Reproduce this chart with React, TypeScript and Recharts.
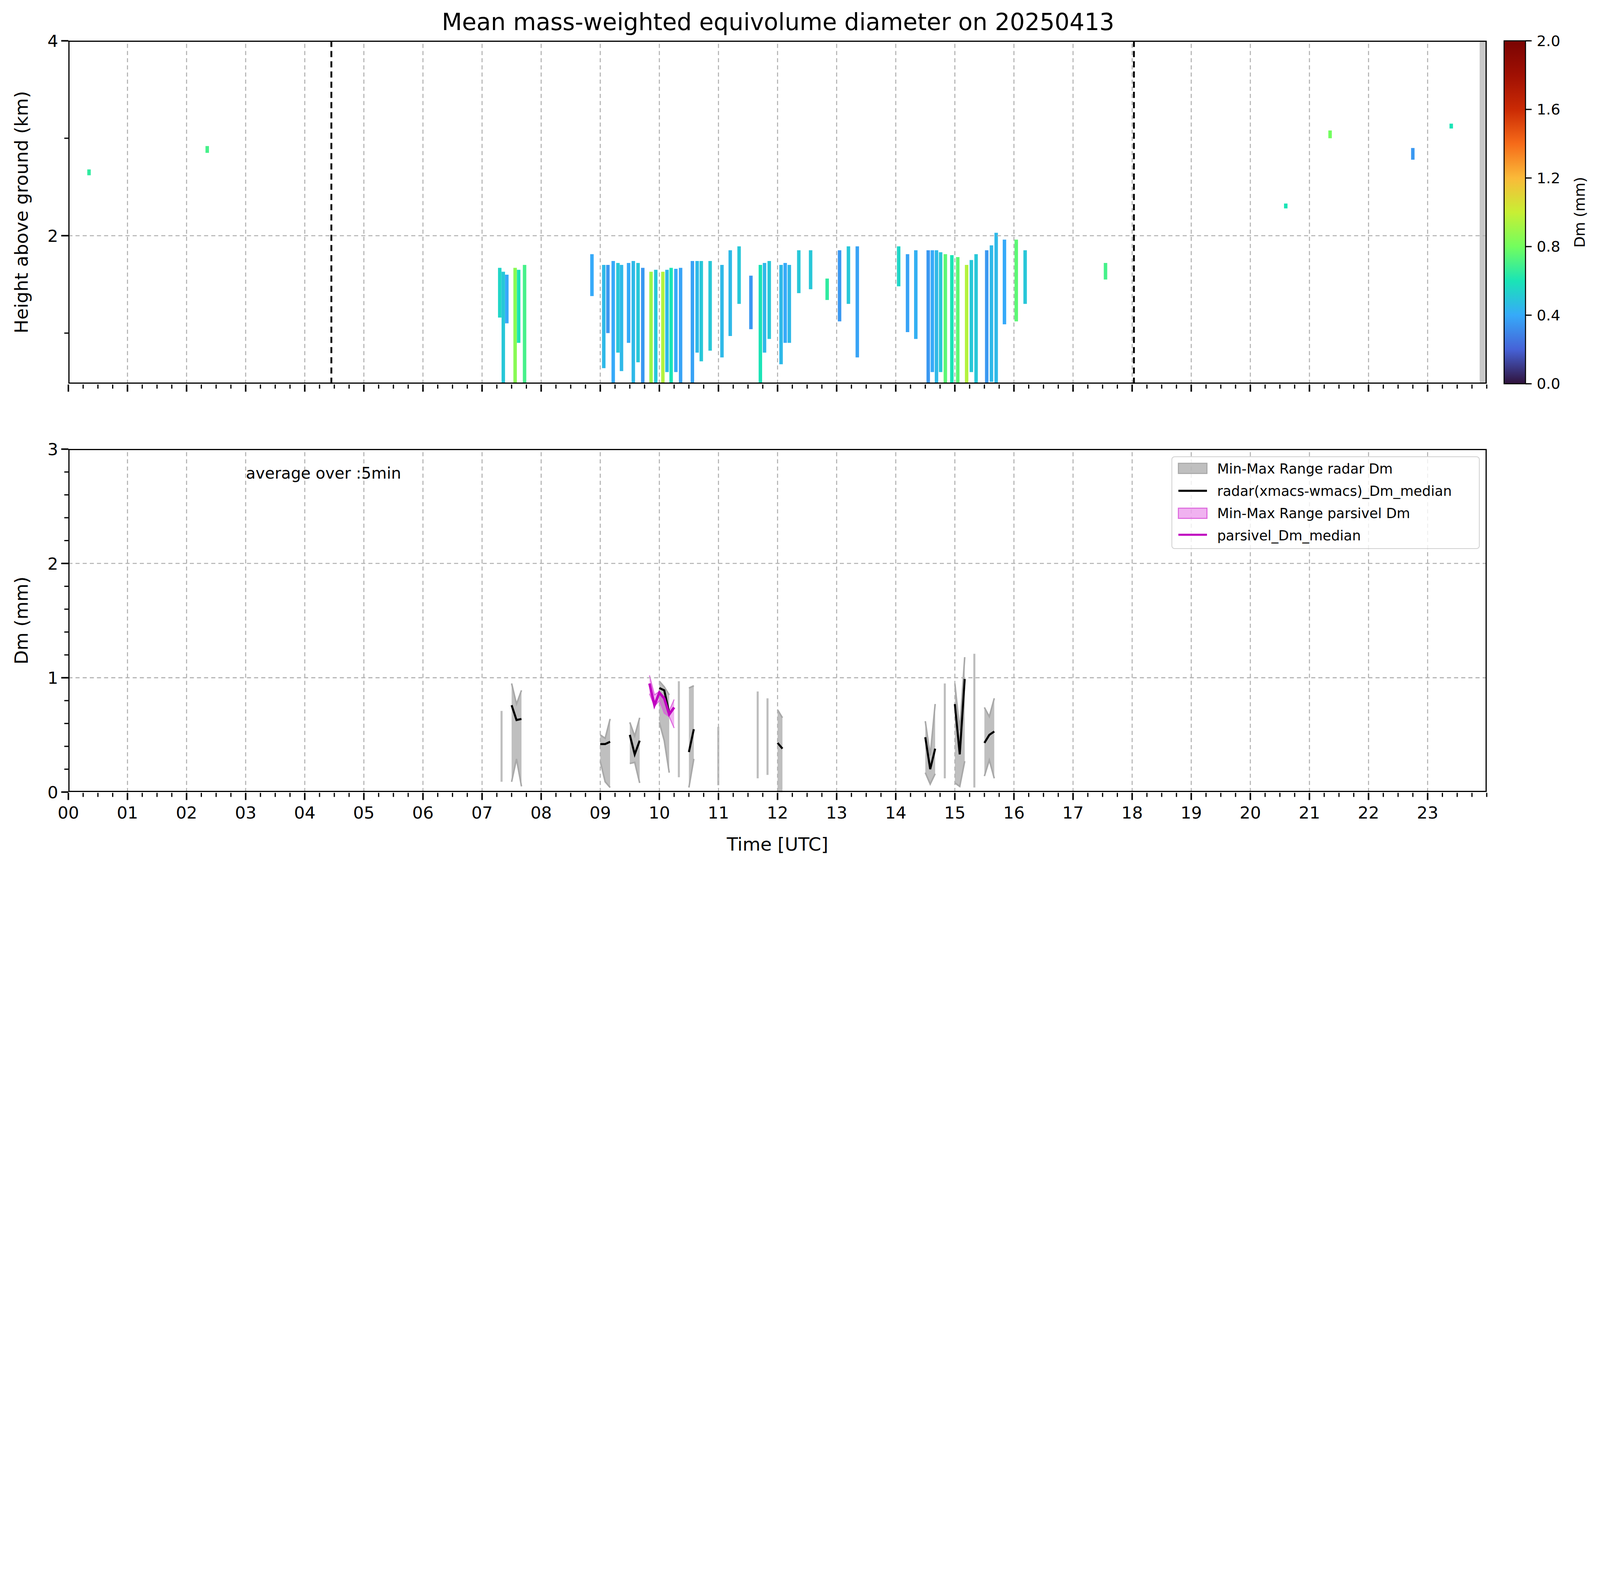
import React from 'react';
import {
  ComposedChart, Bar, Area, Line, XAxis, YAxis, Cell, ReferenceLine, ReferenceArea,
} from 'recharts';

// layout is designed on a 1568x850 grid, then multiplied up to fit the window
const VW = typeof window !== 'undefined' ? window.innerWidth : 7442;
const VH = typeof window !== 'undefined' ? window.innerHeight : 4031;
const S = Math.min(VW / 1568, VH / 850);
const k = (n: number) => n * S;
const FONT = 'DejaVu Sans, sans-serif';

// ---- top panel: radar Dm columns (hour, bottom km, top km, Dm mm)
const colHour = [0.35, 2.35, 7.3, 7.36, 7.42, 7.56, 7.62, 7.72, 8.86, 9.06, 9.13, 9.22, 9.3, 9.36, 9.48, 9.56, 9.64, 9.72, 9.86, 9.94, 10.06, 10.13, 10.2, 10.28, 10.36, 10.56, 10.64, 10.71, 10.86, 11.06, 11.2, 11.35, 11.55, 11.71, 11.78, 11.86, 12.06, 12.13, 12.2, 12.36, 12.56, 12.84, 13.05, 13.2, 13.35, 14.05, 14.2, 14.34, 14.55, 14.62, 14.69, 14.76, 14.84, 14.95, 15.05, 15.2, 15.28, 15.36, 15.54, 15.62, 15.7, 15.84, 16.04, 16.19, 17.55, 20.6, 21.35, 22.75, 23.4];
const colBottom = [2.62, 2.85, 1.16, 0.48, 1.1, 0.48, 0.9, 0.48, 1.38, 0.64, 1.0, 0.48, 0.8, 0.61, 0.9, 0.48, 0.7, 0.48, 0.48, 0.48, 0.48, 0.6, 0.48, 0.6, 0.48, 0.49, 0.8, 0.71, 0.82, 0.75, 0.97, 1.30, 1.04, 0.48, 0.8, 0.94, 0.68, 0.9, 0.90, 1.41, 1.45, 1.34, 1.12, 1.30, 0.75, 1.48, 1.01, 0.94, 0.48, 0.6, 0.48, 0.6, 0.48, 0.48, 0.48, 0.48, 0.6, 0.48, 0.48, 0.5, 0.48, 1.09, 1.12, 1.30, 1.55, 2.28, 3.0, 2.78, 3.1];
const colTop = [2.68, 2.92, 1.67, 1.63, 1.6, 1.67, 1.65, 1.70, 1.81, 1.70, 1.7, 1.74, 1.72, 1.70, 1.72, 1.74, 1.72, 1.67, 1.63, 1.65, 1.63, 1.65, 1.67, 1.66, 1.67, 1.74, 1.74, 1.74, 1.74, 1.70, 1.85, 1.89, 1.59, 1.70, 1.72, 1.74, 1.70, 1.72, 1.70, 1.85, 1.85, 1.56, 1.85, 1.89, 1.89, 1.89, 1.81, 1.85, 1.85, 1.85, 1.85, 1.83, 1.81, 1.80, 1.78, 1.70, 1.75, 1.81, 1.85, 1.9, 2.03, 1.96, 1.96, 1.85, 1.72, 2.33, 3.08, 2.9, 3.15];
const colDm = [0.65, 0.7, 0.55, 0.5, 0.4, 0.85, 0.6, 0.7, 0.4, 0.45, 0.35, 0.4, 0.5, 0.45, 0.4, 0.45, 0.5, 0.35, 0.9, 0.5, 0.95, 0.45, 0.6, 0.4, 0.38, 0.38, 0.45, 0.5, 0.5, 0.45, 0.45, 0.5, 0.35, 0.6, 0.45, 0.5, 0.45, 0.4, 0.45, 0.5, 0.5, 0.65, 0.35, 0.5, 0.38, 0.55, 0.38, 0.42, 0.35, 0.4, 0.45, 0.5, 0.75, 0.6, 0.75, 0.95, 0.5, 0.5, 0.35, 0.45, 0.45, 0.4, 0.75, 0.5, 0.7, 0.6, 0.8, 0.35, 0.6];

// ---- bottom panel: 5-min statistics (null = no data)
const statHour = [7.5, 7.583, 7.667, 8.0, 9.0, 9.083, 9.167, 9.25, 9.5, 9.583, 9.667, 9.75, 9.833, 9.917, 10.0, 10.083, 10.167, 10.25, 10.4, 10.5, 10.583, 10.667, 12.0, 12.083, 12.167, 14.5, 14.583, 14.667, 14.75, 15.0, 15.083, 15.167, 15.25, 15.5, 15.583, 15.667];
const radarMin = [0.09, 0.29, 0.05, null, 0.27, 0.09, 0.04, null, 0.25, 0.26, 0.08, null, null, null, 0.61, 0.45, 0.17, null, null, 0.04, 0.29, null, 0.0, 0.0, null, 0.17, 0.07, 0.16, null, 0.08, 0.05, 0.27, null, 0.14, 0.28, 0.12];
const radarMax = [0.95, 0.77, 0.89, null, 0.50, 0.47, 0.64, null, 0.61, 0.49, 0.65, null, null, null, 0.97, 0.92, 0.85, null, null, 0.91, 0.93, null, 0.72, 0.65, null, 0.62, 0.32, 0.77, null, 0.95, 0.54, 1.18, null, 0.74, 0.66, 0.82];
const radarMed = [0.76, 0.63, 0.64, null, 0.42, 0.42, 0.44, null, 0.50, 0.33, 0.45, null, null, null, 0.91, 0.89, 0.69, null, null, 0.35, 0.55, null, 0.43, 0.38, null, 0.48, 0.20, 0.38, null, 0.77, 0.33, 0.99, null, 0.43, 0.50, 0.53];
const parsMin = [null, null, null, null, null, null, null, null, null, null, null, null, 0.86, 0.75, 0.80, 0.69, 0.66, 0.56, null, null, null, null, null, null, null, null, null, null, null, null, null, null, null, null, null, null];
const parsMax = [null, null, null, null, null, null, null, null, null, null, null, null, 1.02, 0.85, 0.88, 0.82, 0.71, 0.81, null, null, null, null, null, null, null, null, null, null, null, null, null, null, null, null, null, null];
const parsMed = [null, null, null, null, null, null, null, null, null, null, null, null, 0.95, 0.76, 0.87, 0.82, 0.68, 0.74, null, null, null, null, null, null, null, null, null, null, null, null, null, null, null, null, null, null];

// single-interval min-max spikes
const spikeHour = [7.333, 10.333, 11.0, 11.667, 11.833, 14.833, 15.333];
const spikeMin = [0.09, 0.13, 0.06, 0.12, 0.15, 0.12, 0.04];
const spikeMax = [0.71, 0.97, 0.57, 0.88, 0.82, 0.95, 1.21];

const hourLabels = Array.from({ length: 24 }, (_, i) => String(i).padStart(2, '0'));
const xTicks = Array.from({ length: 97 }, (_, i) => i * 0.25);
const dmTicks = Array.from({ length: 16 }, (_, i) => +(i * 0.2).toFixed(1));
const cbLabels = ['0.0', '0.4', '0.8', '1.2', '1.6', '2.0'];

const TURBO = ['#30123b', '#4662d7', '#36aaf9', '#1ae4b6', '#72fe5e', '#c8ef34', '#faba39', '#f66b19', '#ca2a04', '#a01003', '#7a0403'];
const hexToRgb = (h: string) => [1, 3, 5].map(i => parseInt(h.slice(i, i + 2), 16));
const turbo = (v: number) => {
  const t = Math.max(0, Math.min(1, v / 2)) * 10;
  const i = Math.min(9, Math.floor(t));
  const f = t - i;
  const a = hexToRgb(TURBO[i]), b = hexToRgb(TURBO[i + 1]);
  const c = a.map((x, j) => Math.round(x + (b[j] - x) * f));
  return `rgb(${c[0]},${c[1]},${c[2]})`;
};

const columns = colHour.map((h, i) => ({ h, range: [colBottom[i], colTop[i]], dm: colDm[i] }));
const stats = [
  ...statHour.map((h, i) => ({
    h,
    radar: radarMin[i] == null ? null : [radarMin[i], radarMax[i]],
    radarMed: radarMed[i],
    pars: parsMin[i] == null ? null : [parsMin[i], parsMax[i]],
    parsMed: parsMed[i],
    spike: null as number[] | null,
  })),
  ...spikeHour.map((h, i) => ({ h, radar: null, radarMed: null, pars: null, parsMed: null, spike: [spikeMin[i], spikeMax[i]] })),
].sort((a, b) => a.h - b.h);

const XTick = ({ x, y, payload, labels }: any) => {
  const v = payload.value;
  const major = Math.abs(v - Math.round(v)) < 1e-6 && v < 24;
  return (
    <g>
      <line x1={x} x2={x} y1={y} y2={y + k(major ? 7 : 4)} stroke="#000" strokeWidth={k(major ? 1.5 : 1.2)} />
      {labels && major && (
        <text x={x} y={y + k(25)} textAnchor="middle" fontSize={k(16.5)} fontFamily={FONT} fill="#000">{hourLabels[Math.round(v)]}</text>
      )}
    </g>
  );
};

const YTick = ({ x, y, payload, majors }: any) => {
  const v = payload.value;
  const major = majors.includes(v);
  return (
    <g>
      <line x1={x - k(major ? 7 : 4)} x2={x} y1={y} y2={y} stroke="#000" strokeWidth={k(major ? 1.5 : 1.2)} />
      {major && (
        <text x={x - k(10)} y={y + k(6)} textAnchor="end" fontSize={k(16.5)} fontFamily={FONT} fill="#000">{v}</text>
      )}
    </g>
  );
};

const gridHours = Array.from({ length: 23 }, (_, i) => i + 1);
const grid = { stroke: '#b0b0b0', strokeWidth: k(1), strokeDasharray: `${k(4)} ${k(3)}` };

const Frame = ({ top }: { top: number }) => (
  <div style={{ position: 'absolute', left: k(67), top: k(top), width: k(1390), height: k(336), border: `${k(1.5)}px solid #000`, boxSizing: 'border-box', pointerEvents: 'none' }} />
);

const txt = (style: React.CSSProperties, s: string) => (
  <div style={{ position: 'absolute', fontFamily: FONT, color: '#000', whiteSpace: 'nowrap', lineHeight: 1, ...style }}>{s}</div>
);

export default function App() {
  return (
    <div style={{ position: 'absolute', left: 0, top: 0, width: k(1568), height: k(850), background: '#fff', overflow: 'hidden' }}>
      {txt({ left: 0, width: k(1525), top: k(10), textAlign: 'center', fontSize: k(23) }, 'Mean mass-weighted equivolume diameter on 20250413')}

      {/* top panel */}
      <div style={{ position: 'absolute', left: 0, top: 0 }}>
        <ComposedChart width={k(1568)} height={k(400)} data={columns} margin={{ top: k(40), right: k(111), bottom: k(16), left: k(17) }}>
          <XAxis dataKey="h" type="number" domain={[0, 24]} ticks={xTicks} interval={0} height={k(8)}
            axisLine={false} tickLine={false} tickSize={0} tick={<XTick labels={false} />} />
          <YAxis type="number" domain={[0.48, 4]} allowDataOverflow ticks={[1, 2, 3, 4]} interval={0} width={k(50)}
            axisLine={false} tickLine={false} tickSize={0} tickMargin={0} tick={<YTick majors={[2, 4]} />} />
          {gridHours.map(h => <ReferenceLine key={h} x={h} {...grid} />)}
          <ReferenceLine y={2} {...grid} />
          <Bar dataKey="range" barSize={k(3.4)} isAnimationActive={false}>
            {columns.map((c, i) => <Cell key={i} fill={turbo(c.dm)} />)}
          </Bar>
          <ReferenceLine x={4.45} stroke="#000" strokeWidth={k(1.8)} strokeDasharray={`${k(6)} ${k(4)}`} />
          <ReferenceLine x={18.03} stroke="#000" strokeWidth={k(1.8)} strokeDasharray={`${k(6)} ${k(4)}`} />
          <ReferenceArea x1={23.88} x2={24} y1={0.48} y2={4} fill="#c8c8c8" fillOpacity={1} stroke="none" />
        </ComposedChart>
      </div>
      <Frame top={40} />
      {txt({ left: k(21), top: k(208), fontSize: k(18), transform: 'translate(-50%,-50%) rotate(-90deg)' }, 'Height above ground (km)')}

      {/* colorbar */}
      <svg style={{ position: 'absolute', left: 0, top: 0 }} width={k(1568)} height={k(400)}>
        <defs>
          <linearGradient id="turbo" x1="0" y1="1" x2="0" y2="0">
            {TURBO.map((c, i) => <stop key={i} offset={i / 10} stopColor={c} />)}
          </linearGradient>
        </defs>
        <rect x={k(1474)} y={k(40)} width={k(21)} height={k(336)} fill="url(#turbo)" stroke="#000" strokeWidth={k(1)} />
        {cbLabels.map((l, i) => {
          const y = k(376 - i * 67.2);
          return (
            <g key={l}>
              <line x1={k(1495)} x2={k(1501)} y1={y} y2={y} stroke="#000" strokeWidth={k(1.2)} />
              <text x={k(1506)} y={y + k(5)} fontSize={k(14.5)} fontFamily={FONT}>{l}</text>
            </g>
          );
        })}
        <text transform={`translate(${k(1553)},${k(208)}) rotate(-90)`} textAnchor="middle" fontSize={k(14.5)} fontFamily={FONT}>Dm (mm)</text>
      </svg>

      {/* bottom panel */}
      <div style={{ position: 'absolute', left: 0, top: k(400) }}>
        <ComposedChart width={k(1568)} height={k(450)} data={stats} margin={{ top: k(40), right: k(111), bottom: k(34), left: k(17) }}>
          <XAxis dataKey="h" type="number" domain={[0, 24]} ticks={xTicks} interval={0} height={k(40)}
            axisLine={false} tickLine={false} tickSize={0} tick={<XTick labels />} />
          <YAxis type="number" domain={[0, 3]} allowDataOverflow ticks={dmTicks} interval={0} width={k(50)}
            axisLine={false} tickLine={false} tickSize={0} tickMargin={0} tick={<YTick majors={[0, 1, 2, 3]} />} />
          {gridHours.map(h => <ReferenceLine key={h} x={h} {...grid} />)}
          <ReferenceLine y={1} {...grid} />
          <ReferenceLine y={2} {...grid} />
          <Bar dataKey="spike" barSize={k(2)} fill="#bdbdbd" isAnimationActive={false} />
          <Area dataKey="radar" type="linear" fill="#808080" fillOpacity={0.5} stroke="#a8a8a8" strokeWidth={k(1.5)}
            connectNulls={false} isAnimationActive={false} dot={false} activeDot={false} />
          <Line dataKey="radarMed" type="linear" stroke="#000" strokeWidth={k(2)} dot={false} connectNulls={false} isAnimationActive={false} />
          <Area dataKey="pars" type="linear" fill="#cc00cc" fillOpacity={0.3} stroke="#dd66dd" strokeWidth={k(1)}
            connectNulls={false} isAnimationActive={false} dot={false} activeDot={false} />
          <Line dataKey="parsMed" type="linear" stroke="#c000c0" strokeWidth={k(2.5)} dot={false} connectNulls={false} isAnimationActive={false} />
        </ComposedChart>
      </div>
      <Frame top={440} />
      {txt({ left: k(21), top: k(608), fontSize: k(18), transform: 'translate(-50%,-50%) rotate(-90deg)' }, 'Dm (mm)')}
      {txt({ left: k(762), top: k(818), fontSize: k(18), transform: 'translateX(-50%)' }, 'Time [UTC]')}
      {txt({ left: k(241), top: k(456), fontSize: k(15.5) }, 'average over :5min')}

      {/* legend */}
      <div style={{ position: 'absolute', left: k(1148), top: k(447), width: k(302), height: k(91), border: `${k(1)}px solid #d0d0d0`, borderRadius: k(3), background: 'rgba(255,255,255,0.8)', boxSizing: 'border-box' }}>
        <svg width={k(300)} height={k(89)} style={{ position: 'absolute', left: 0, top: 0 }}>
          <rect x={k(6)} y={k(6)} width={k(28)} height={k(10)} fill="#808080" fillOpacity={0.5} stroke="#a8a8a8" strokeWidth={k(1)} />
          <line x1={k(6)} x2={k(34)} y1={k(33)} y2={k(33)} stroke="#000" strokeWidth={k(2)} />
          <rect x={k(6)} y={k(50)} width={k(28)} height={k(10)} fill="#cc00cc" fillOpacity={0.3} stroke="#dd66dd" strokeWidth={k(1)} />
          <line x1={k(6)} x2={k(34)} y1={k(76)} y2={k(76)} stroke="#c000c0" strokeWidth={k(2)} />
          {['Min-Max Range radar Dm', 'radar(xmacs-wmacs)_Dm_median', 'Min-Max Range parsivel Dm', 'parsivel_Dm_median'].map((s, i) => (
            <text key={s} x={k(44)} y={k(16 + i * 21.8)} fontSize={k(13.5)} fontFamily={FONT}>{s}</text>
          ))}
        </svg>
      </div>
    </div>
  );
}
